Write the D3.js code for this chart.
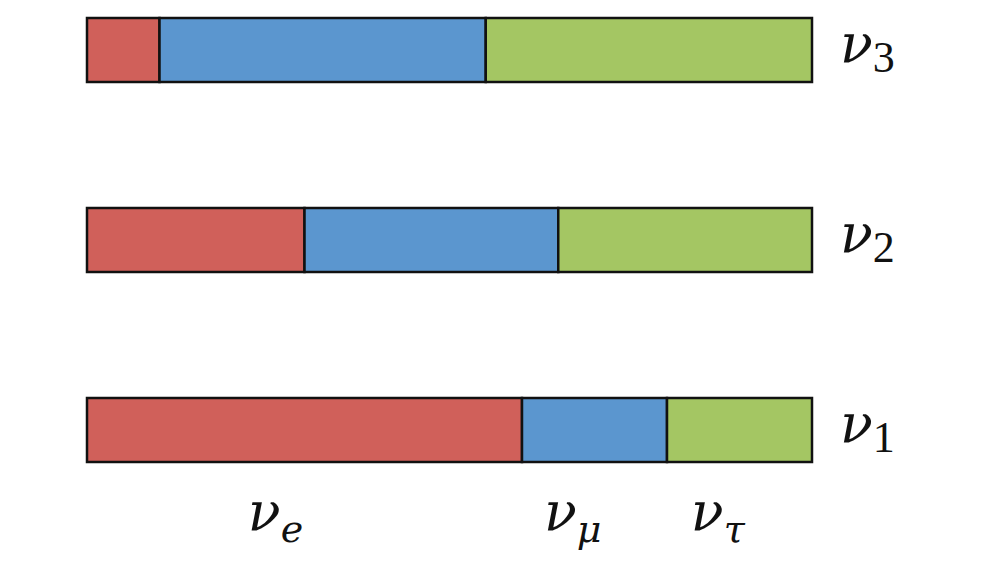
<!DOCTYPE html>
<html><head><meta charset="utf-8">
<script src="https://cdn.jsdelivr.net/npm/d3@7"></script>
<style>body{margin:0;background:#fff}</style></head>
<body><svg id="c" width="1000" height="567"></svg>
<script>
const states = ["ν3","ν2","ν1"];
const subs = ["3","2","1"];
const flavors = ["e","μ","τ"];
const nuE   = [0.10, 0.30, 0.60];
const nuMu  = [0.45, 0.35, 0.20];
const nuTau = [0.45, 0.35, 0.20];
const colors = ["#d0605a","#5b96cf","#a4c663"];

const svg = d3.select("#c");
const x = d3.scaleLinear().domain([0,1]).range([87,812]);
const y = d3.scalePoint().domain(states).range([18,398]);
const h = 64;

states.forEach((s,i)=>{
  const vals=[nuE[i],nuMu[i],nuTau[i]];
  let acc=0;
  vals.forEach((v,j)=>{
    svg.append("rect").attr("x",x(acc)).attr("y",y(s)).attr("width",x(acc+v)-x(acc))
      .attr("height",h).attr("fill",colors[j]).attr("stroke","#111").attr("stroke-width",2.5);
    acc+=v;
  });
  const t=svg.append("text").attr("x",840).attr("y",y(s)+h/2+12)
    .attr("font-family","DejaVu Serif").attr("font-size",54).attr("fill","#111");
  t.append("tspan").attr("font-style","italic").text("ν");
  t.append("tspan").attr("font-family","Liberation Serif").attr("font-size",44).attr("dy",10).text(subs[i]);
});
const fx=[0.26,0.67,0.87];
flavors.forEach((f,j)=>{
  const t=svg.append("text").attr("x",x(fx[j])).attr("y",530).attr("text-anchor","middle")
    .attr("font-family","DejaVu Serif").attr("font-style","italic").attr("font-size",54).attr("fill","#111");
  t.append("tspan").text("ν");
  t.append("tspan").attr("font-size",38).attr("dy",12).text(f);
});
</script></body></html>
